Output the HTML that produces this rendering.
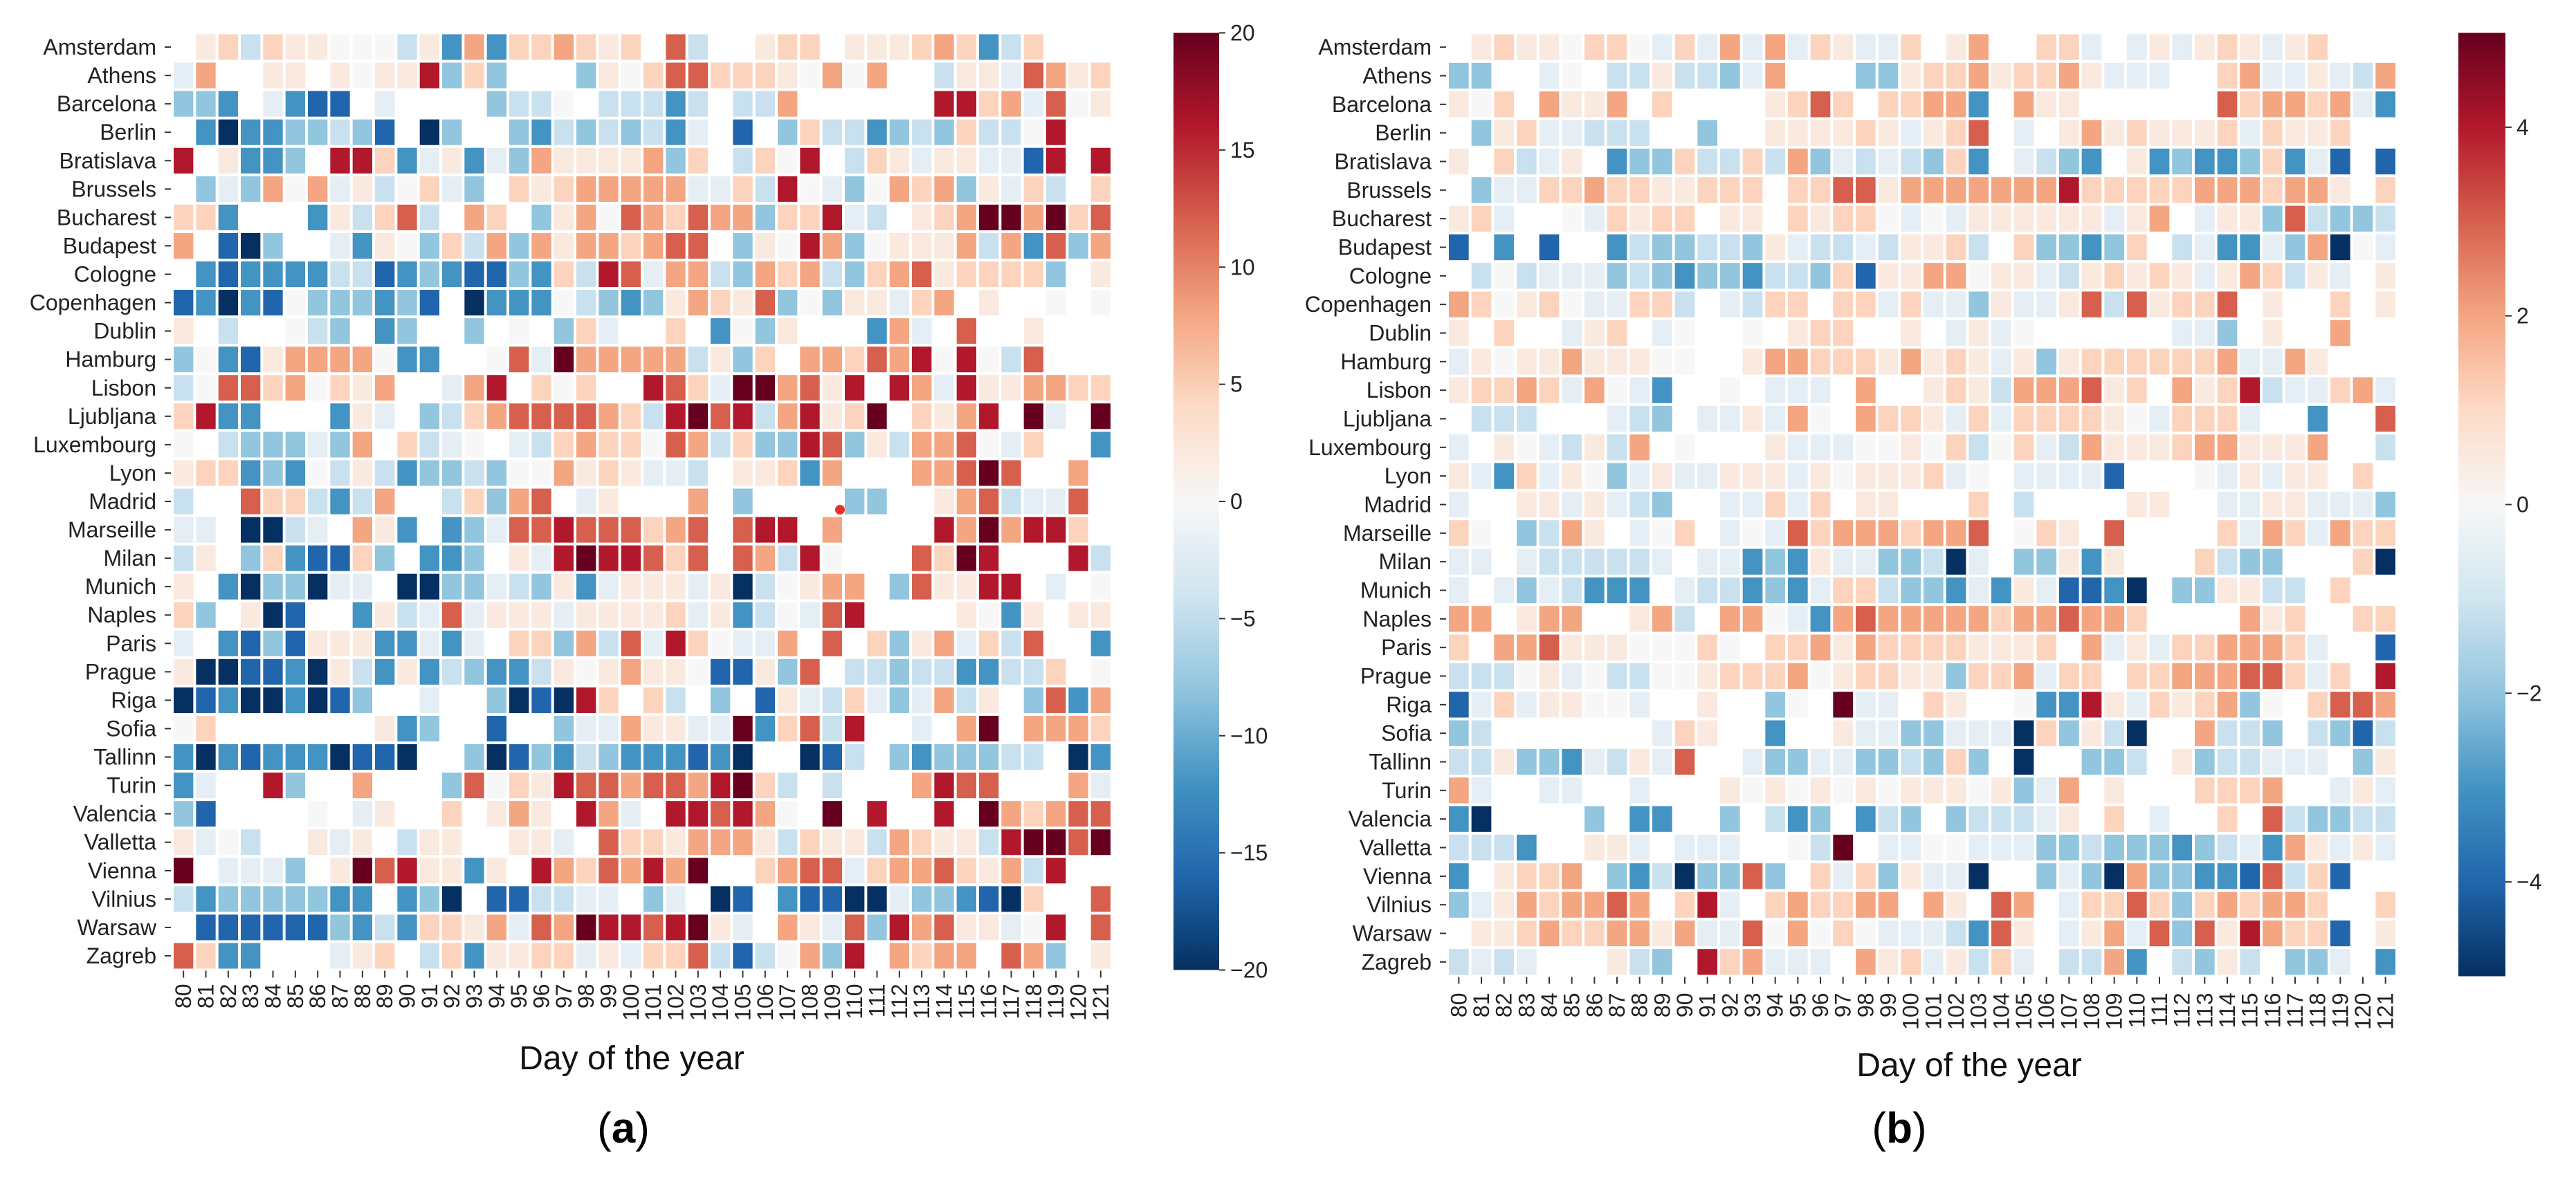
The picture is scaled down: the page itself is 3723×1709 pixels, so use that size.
<!DOCTYPE html>
<html><head><meta charset="utf-8">
<style>
html,body{margin:0;padding:0;background:#fff;}
svg{display:block;font-family:"Liberation Sans",Arial,sans-serif;}
</style></head>
<body>
<svg id="fig" width="3723" height="1709" viewBox="0 0 3723 1709" xmlns="http://www.w3.org/2000/svg">
<defs>
<linearGradient id="gradA" x1="0" y1="1" x2="0" y2="0"></linearGradient>
<linearGradient id="gradB" x1="0" y1="1" x2="0" y2="0"></linearGradient>
</defs>
<g id="panelA"></g>
<g id="panelB"></g>
<circle cx="1214" cy="737" r="7" fill="#e8312a"></circle>
<text x="913" y="1546" font-size="48" text-anchor="middle" fill="#111">Day of the year</text>
<text x="2846" y="1556" font-size="48" text-anchor="middle" fill="#111">Day of the year</text>
<text x="901" y="1652" font-size="62" text-anchor="middle" fill="#000">(<tspan font-weight="bold">a</tspan>)</text>
<text x="2745" y="1652" font-size="62" text-anchor="middle" fill="#000">(<tspan font-weight="bold">b</tspan>)</text>
</svg>
<script>
// ---- data ----
const cities = ["Amsterdam","Athens","Barcelona","Berlin","Bratislava","Brussels","Bucharest","Budapest","Cologne","Copenhagen","Dublin","Hamburg","Lisbon","Ljubljana","Luxembourg","Lyon","Madrid","Marseille","Milan","Munich","Naples","Paris","Prague","Riga","Sofia","Tallinn","Turin","Valencia","Valletta","Vienna","Vilnius","Warsaw","Zagreb"];
const days = [80,81,82,83,84,85,86,87,88,89,90,91,92,93,94,95,96,97,98,99,100,101,102,103,104,105,106,107,108,109,110,111,112,113,114,115,116,117,118,119,120,121];
// code -> value in units of panel (a); panel (b) uses the same codes scaled by 0.25; "." = missing
const codeValues = {"F":-20,"E":-16,"D":-12,"C":-8,"B":-4.5,"A":-2,"0":0,"1":2,"2":4.5,"3":8,"4":12,"5":16,"6":20};
const scaleA = 1;
const scaleB = 0.25;
const ticksA = [20,15,10,5,0,-5,-10,-15,-20];
const ticksB = [4,2,0,-2,-4];
const rowsA = [
".12B211000B1D3D223212.4B..122.111232DB2...",
"A3..11.10115C2C...C1024422210303..B11A4312",
"CCD.ADEE.A....CBB0.BBBDB.BB3......5523A401",
".DFDDCCBCE.FC..CDBCBCBDA.E.C2BBDCBC2BB05..",
"5.1DDC.552DA1DAC311113C2.B205.B21A11AAE5.5",
".CAC303A1B02AC.21233333AA2B50AC0323C1A2B.2",
"22D...D1B24B.32.C130432433C225AB.123663624",
"3.EFC..AD10C2B3C31332344.C1053C01113B3D4C3",
".DEDDDDBBEDCDEECD2B54A33BC323BC23412222C.1",
"EDFDE0CCCDCE.FDDD0BCDC13214C0C11A23.1..0.0",
"1.B..0BC.DC..C.0.C2A..2.D0C1...D3A.4..1...",
"C0DE133330DD..04A633333B1C2.332435050B4...",
"B044230213..A35.202..542A663415.53A5113322",
"25DD...D1A.CB23444432B5645B35126.2135.6A.6",
"0.BCCCAC3.2BA0.AB2322043B2CC54C1B3340A2..D",
"122DCD0B1BDCCBC003121AAB.112D3...33464..3.",
"B..422BDB3..B2C34.A1...3.C....CC..134BAA4.",
"AA.FFBA.31D.DCA445444234.455.3....5363552.",
"B1.C2DEE2C.DDC.1A5655424.43B50...4265...5B",
"1.DFCCFAA.FFCCABC1DA111A1FB0133.C41155.A.0",
"2C.1FE..D1BA4A111A11112A1DB0A45....10D1.11",
"A.DECE111DDADA.22C3B4A520AA3.4.2C13A2B4..D",
"1FFEEDF1BD1DBCDDB1013110EE1C4.BBCBBDDBB2.0",
"FEDFFDFEC..A..CFEF52.2B.C.E1AB2ACA3B1.C4D3",
"02.......1DC..E..CAA311AA6D24B5..A.36.3332",
"DFDEDDDFEEF..CFECDBCDDDEDF..FEB.CDCCCBB.FD",
"DA..5C..3...C40215443443562B.B...3544...3A",
"CE....0.A1..2.131.53A.554530.6.5..5.632344",
"1A0B..1A1.B11..11A.42213331B211B3211B56646",
"6.AAAC.164511D1.53243536..2344A2334213B5..",
"BDCCCCCDD.DCF.EEBBAA.CA.FE.DEEFFACCDEF2..4",
".EEEEEECDBD2213A436554561A.31A4C53411A05.4",
"42DD...A12.B2D1122A1A224BEB03C5.3233.43C.1"
];
const rowsB = [
".12110220A2A3A3A21AA2.13..22A.A1A121A12...",
"CC..A0.BB1BBCA3...CC122312231AAA..23AA1AB3",
"102.3113.2....1242.2233D.311......423323AD",
".C12AABBB..C..111121A124.A.13121112A2112..",
"1.2BA1.DCC2BB2B3CABABC2D.ABCD.1DCDDC2DAE.E",
".CAA2232211222.2244133333335222223332331.2",
"12A..0A2122.11.21220A0A111111A13.A11C4BCCB",
"E.D.E..DBCCBBC1ABBAB112B.2CCDC2.BADDAC3F0A",
".B0BAAACBCDCCDBBC2E1133011AB12121A132B1A.1",
"320120AA22B.AB22.22A2AAC1AA14B41224.1..2.1",
"1.2..A12.A0..0.122..1.A1A0......AAC.1..3..",
"A1011311100..13322213121A1C12222223AA31...",
"12232A30AD..0.AAA.3..121B333412.3125BAA23A",
".BBB...ABC.AA1A30.3221A2A222210A222A..D..4",
"A.10AB1B3.0...1AAA00102B02AB31112331113..B",
"1AD2A10CA1AA111A101112A0.AAAAE...0A1A11.2.",
"A..11A1ABC..AA2A2.11...2.B....11..AA11AAAC",
"20.CB31.A02.A0A423332334.021.4....2A32A322",
"AA.ABBBBBA.AADCD1AACCBFA.CC1D1...2BCC...2F",
"A.ACABDDD.ABBDCDA22BCCDAD1AEEDF.CC11BB.2..",
"33.133..13B.330AD34333332334332....312..22",
"2.33411100020.2231322221112.3A1A223332A..E",
"BBB01A0BB0012223012211C223A22.22333442A2.5",
"EA2A1100A..1..C0.6AA.21..0DD51A2123C0.2443",
"CB.......A21..D..1AACCAAAF2C1BF..3BBC.BCEB",
"BB1CCDAB1A4..ACCAACCBC2C.F..CCB.1CBBAAA.C1",
"3A..AA..A...1010101011101CA3.1...2223..A1A",
"DF....C.DD..C.BDC.DBC.CBBBA1.2.A..2.4BCCBB",
"BBBD..11A.AAA..0B6.AA00AAACCBCCCDCBAD31A1A",
"D.1223.CDBFCC4C.2A2C1AAF..CACF3CCDDE4B2E..",
"CA1323343.25A.232233.31.43.A2242C232332..2",
".1123223313AA403020AAABD41.A13A4C415322E.1",
"BABA...1BC.523AAA.312A1B2A.BB3D.BC1B.CCA.D"
];

// ---- colormap (RdBu_r) ----
const RDBU = ['#053061','#2166ac','#4393c3','#92c5de','#d1e5f0','#f7f7f7','#fddbc7','#f4a582','#d6604d','#b2182b','#67001f'];
function hex(c){return [parseInt(c.slice(1,3),16),parseInt(c.slice(3,5),16),parseInt(c.slice(5,7),16)];}
function cmap(t){
  t=Math.max(0,Math.min(1,t));
  const p=t*10, i=Math.min(9,Math.floor(p)), f=p-i;
  const a=hex(RDBU[i]), b=hex(RDBU[i+1]);
  return 'rgb('+a.map((v,k)=>Math.round(v+(b[k]-v)*f)).join(',')+')';
}
function decode(rows, scale){
  return rows.map(r=>{
    const out=[];
    for(let j=0;j<days.length;j++){
      const ch=r[j];
      out.push(ch===undefined||ch==='.'||!(ch in codeValues)?null:codeValues[ch]*scale);
    }
    return out;
  });
}
const valuesA = decode(rowsA, scaleA);
const valuesB = decode(rowsB, scaleB);

const NS='http://www.w3.org/2000/svg';
function mk(tag, attrs, parent){
  const e=document.createElementNS(NS,tag);
  for(const k in attrs) e.setAttribute(k,attrs[k]);
  parent.appendChild(e);
  return e;
}
function fmt(v){return v<0?'\u2212'+Math.abs(v):String(v);}

function drawPanel(g, gradId, values, cfg){
  const colW=cfg.width/days.length, rowH=cfg.height/cities.length;
  const xScale=j=>cfg.left+j*colW;
  const yScale=i=>cfg.top+i*rowH;
  const tScale=v=>(v-cfg.vmin)/(cfg.vmax-cfg.vmin);
  // cells
  values.forEach((row,i)=>{
    row.forEach((v,j)=>{
      if(v===null) return;
      const r=mk('rect',{x:xScale(j)+2,y:yScale(i)+2,width:colW-4,height:rowH-4,fill:cmap(tScale(v))},g);
      
      
    });
  });
  // y labels
  cities.forEach((c,i)=>{
    const cy=yScale(i)+rowH/2;
    const tk=mk('line',{x1:cfg.left-11,x2:cfg.left-2,y1:cy,y2:cy,stroke:'#333','stroke-width':2},g);
    
    
    const t=mk('text',{x:cfg.left-23,y:cy,'font-size':32,'text-anchor':'end','dominant-baseline':'central',fill:'#222'},g);
    t.textContent=c;
    
    
  });
  // x labels
  const bottom=cfg.top+cfg.height;
  days.forEach((d,j)=>{
    const cx=xScale(j)+colW/2;
    const tk=mk('line',{x1:cx,x2:cx,y1:bottom+1,y2:bottom+11,stroke:'#333','stroke-width':2},g);
    
    
    const t=mk('text',{x:cx,y:bottom+cfg.labelGap,'font-size':32,'text-anchor':'end','dominant-baseline':'central',fill:'#222',transform:'rotate(-90 '+cx+' '+(bottom+cfg.labelGap)+')'},g);
    t.textContent=d;
    
    
  });
  // colorbar
  const grad=document.getElementById(gradId);
  for(let k=0;k<=10;k++){
    mk('stop',{offset:(k*10)+'%','stop-color':RDBU[k]},grad);
  }
  const cb=mk('rect',{x:cfg.cbX,y:cfg.top,width:cfg.cbW,height:cfg.height,fill:'url(#'+gradId+')'},g);
  
  
  const cbY=v=>cfg.top+cfg.height*(1-tScale(v));
  cfg.ticks.forEach(v=>{
    const y=cbY(v);
    const tk=mk('line',{x1:cfg.cbX+cfg.cbW,x2:cfg.cbX+cfg.cbW+9,y1:y,y2:y,stroke:'#333','stroke-width':2},g);
    
    
    const t=mk('text',{x:cfg.cbX+cfg.cbW+16,y:y,'font-size':32,'dominant-baseline':'central',fill:'#222'},g);
    t.textContent=fmt(v);
    
    
  });
}

drawPanel(document.getElementById('panelA'),'gradA',valuesA,
  {left:249,top:47.5,width:1358,height:1355,vmin:-20,vmax:20,cbX:1696,cbW:66,ticks:ticksA,labelGap:20});
drawPanel(document.getElementById('panelB'),'gradB',valuesB,
  {left:2092,top:47.5,width:1372,height:1364,vmin:-5,vmax:5,cbX:3553,cbW:68,ticks:ticksB,labelGap:24});
</script>
</body></html>
